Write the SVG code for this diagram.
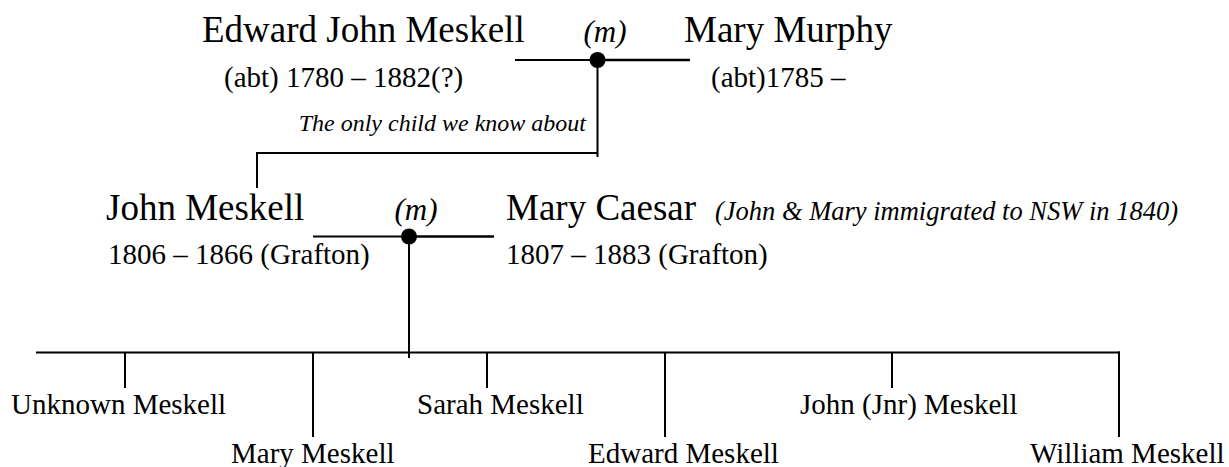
<svg xmlns="http://www.w3.org/2000/svg" width="1229" height="467" viewBox="0 0 1229 467">
<style>
  text { font-family: "Liberation Serif", "Times New Roman", serif; fill: #000; }
  .name { font-size: 37px; }
  .date { font-size: 29px; }
  .child { font-size: 29px; }
  .m { font-size: 31px; font-style: italic; }
  .note { font-size: 24px; font-style: italic; }
  .note2 { font-size: 26.5px; font-style: italic; }
  .ln { stroke: #000; stroke-width: 2; fill: none; }
  .lnb { stroke: #000; stroke-width: 2.6; fill: none; }
</style>
<rect width="1229" height="467" fill="#fff"/>
<g id="connectors">
  <line class="ln" x1="515" y1="60" x2="597" y2="60"/>
  <line class="lnb" x1="597" y1="60" x2="690" y2="60"/>
  <line class="ln" x1="597.5" y1="60" x2="597.5" y2="157"/>
  <polyline class="ln" points="257,188 257,153 598,153"/>
  <line class="ln" x1="313" y1="236.5" x2="409" y2="236.5"/>
  <line class="lnb" x1="409" y1="236.5" x2="494" y2="236.5"/>
  <line class="ln" x1="409" y1="236.5" x2="409" y2="358"/>
  <line class="ln" x1="36" y1="352.5" x2="1120" y2="352.5"/>
  <line class="ln" x1="125" y1="352.5" x2="125" y2="388"/>
  <line class="ln" x1="313" y1="352.5" x2="313" y2="437"/>
  <line class="ln" x1="487" y1="352.5" x2="487" y2="388"/>
  <line class="ln" x1="665" y1="352.5" x2="665" y2="437"/>
  <line class="ln" x1="892" y1="352.5" x2="892" y2="388"/>
  <line class="ln" x1="1119" y1="351.5" x2="1119" y2="437"/>
  <circle cx="597.5" cy="60" r="8" fill="#000"/>
  <circle cx="409" cy="236.5" r="8" fill="#000"/>
</g>
<g id="edward-john-meskell">
  <text class="name" x="202" y="42">Edward John Meskell</text>
  <text class="date" x="224" y="87">(abt) 1780 – 1882(?)</text>
</g>
<g id="marriage-1">
  <text class="m" x="605" y="42" text-anchor="middle">(m)</text>
</g>
<g id="mary-murphy">
  <text class="name" x="684" y="42">Mary Murphy</text>
  <text class="date" x="711" y="87">(abt)1785 –</text>
</g>
<g id="note-only-child">
  <text class="note" x="586" y="131" text-anchor="end">The only child we know about</text>
</g>
<g id="john-meskell">
  <text class="name" x="106" y="220">John Meskell</text>
  <text class="date" x="108" y="264">1806 – 1866 (Grafton)</text>
</g>
<g id="marriage-2">
  <text class="m" x="416" y="220" text-anchor="middle">(m)</text>
</g>
<g id="mary-caesar">
  <text class="name" x="506" y="220">Mary Caesar</text>
  <text class="date" x="506" y="264">1807 – 1883 (Grafton)</text>
</g>
<g id="note-immigrated">
  <text class="note2" x="715" y="220">(John &amp; Mary immigrated to NSW in 1840)</text>
</g>
<g id="unknown-meskell"><text class="child" x="11" y="414">Unknown Meskell</text></g>
<g id="mary-meskell"><text class="child" x="231" y="463">Mary Meskell</text></g>
<g id="sarah-meskell"><text class="child" x="417" y="414">Sarah Meskell</text></g>
<g id="edward-meskell"><text class="child" x="588" y="463">Edward Meskell</text></g>
<g id="john-jnr-meskell"><text class="child" x="800" y="414">John (Jnr) Meskell</text></g>
<g id="william-meskell"><text class="child" x="1030" y="463">William Meskell</text></g>
</svg>
